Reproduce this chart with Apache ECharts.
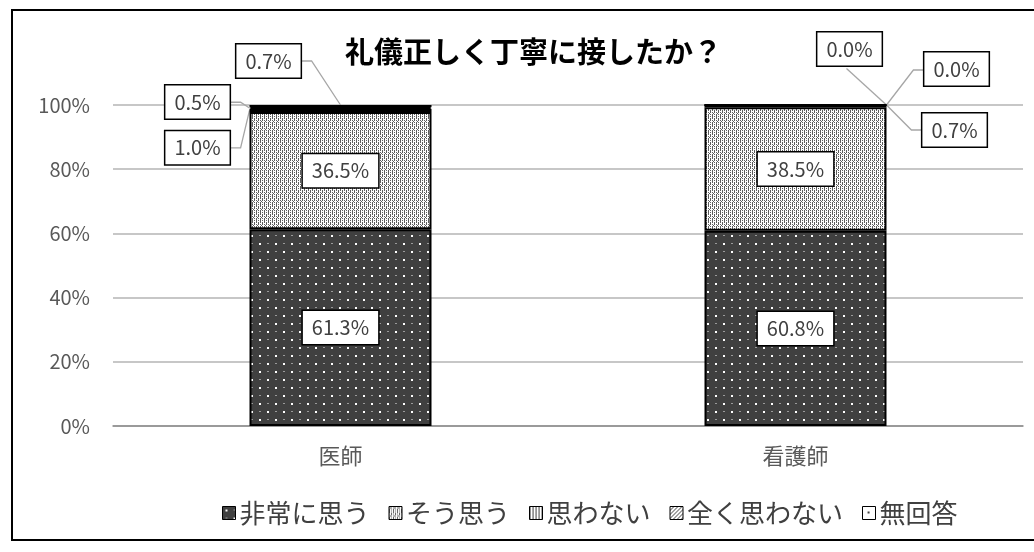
<!DOCTYPE html>
<html><head><meta charset="utf-8">
<script src="https://cdn.jsdelivr.net/npm/echarts@6/dist/echarts.min.js"></script>
<style>html,body{margin:0;padding:0;background:#fff}#c{width:1034px;height:552px}</style>
</head><body><div id="c"></div>
<script>
// ---- data ----
const categories = ['医師', '看護師'];
const seriesNames = ['非常に思う', 'そう思う', '思わない', '全く思わない', '無回答'];
const veryMuch = [61.3, 60.8];
const agree = [36.5, 38.5];
const disagree = [1.0, 0.7];
const stronglyDisagree = [0.5, 0.0];
const noAnswer = [0.7, 0.0];
const yMin = 0, yMax = 100, yInterval = 20;
const titleText = '礼儀正しく丁寧に接したか？';

// ---- patterns ----
function makePattern(w, h, draw) {
  const c = document.createElement('canvas'); c.width = w; c.height = h;
  const g = c.getContext('2d'); draw(g); return c;
}
function drawBits(g, rows, color) {
  g.fillStyle = color;
  rows.forEach((r, y) => { for (let x = 0; x < r.length; x++) if (r[x] === '#') g.fillRect(x, y, 1, 1); });
}
const patterns = [
  makePattern(16, 16, g => {
    g.fillStyle = '#404040'; g.fillRect(0, 0, 16, 16);
    g.fillStyle = '#ffffff'; g.fillRect(3, 3, 2, 2); g.fillRect(11, 11, 2, 2);
    g.fillStyle = '#9a9a9a'; g.fillRect(11, 3, 2, 1); g.fillRect(3, 11, 2, 1);
  }),
  makePattern(8, 8, g => {
    g.fillStyle = '#ffffff'; g.fillRect(0, 0, 8, 8);
    drawBits(g, [
      '#.#.#.#.',
      '.#...#..',
      '#.#.#.#.',
      '#...#...',
      '#.#.#.#.',
      '#...#...',
      '#.#.#.#.',
      '..#...#.'
    ], '#5e5e5e');
  }),
  makePattern(3, 3, g => {
    g.fillStyle = '#ffffff'; g.fillRect(0, 0, 3, 3);
    g.fillStyle = '#404040'; g.fillRect(0, 0, 1, 3);
  }),
  makePattern(4, 4, g => {
    g.fillStyle = '#ffffff'; g.fillRect(0, 0, 4, 4);
    g.fillStyle = '#404040';
    for (let i = 0; i < 4; i++) g.fillRect(3 - i, i, 1, 1);
  }),
  makePattern(12, 12, g => {
    g.fillStyle = '#ffffff'; g.fillRect(0, 0, 12, 12);
    g.fillStyle = '#404040'; g.fillRect(5, 5, 2, 2);
  })
];

const FONT = '"Noto Sans CJK JP", "Noto Sans", sans-serif';
const LABEL_FONT_SIZE = 20;
const LABEL_PAD = [7, 9, 6, 9];
const BAR_WIDTH_RATIO = 0.4;
const dataArrays = [veryMuch, agree, disagree, stronglyDisagree, noAnswer];
const fmt = v => v.toFixed(1) + '%';

// ---- placement of the small (outside) labels, relative to the top-centre of their segment ----
const smallLabelLayout = {
  '2-0': { dx: -143, dy: 39, side: 'right', target: 'leftmid' },
  '3-0': { dx: -143, dy: -5, side: 'right', target: 'leftmid' },
  '4-0': { dx: -72, dy: -44, side: 'right', target: 'topcenter' },
  '2-1': { dx: 159, dy: 25, side: 'left', target: 'topright' },
  '3-1': { dx: 161, dy: -35, side: 'left', target: 'topright' },
  '4-1': { dx: 54, dy: -55, side: 'bottom', target: 'topright' }
};
function layoutFor(si) {
  return function (params) {
    const o = smallLabelLayout[si + '-' + params.dataIndex];
    if (!o) return {};
    const r = params.rect;
    return { x: r.x + r.width / 2 + o.dx, y: r.y + o.dy, align: 'center', verticalAlign: 'middle' };
  };
}

// text measurement for leader-line end points
const measureCtx = document.createElement('canvas').getContext('2d');
measureCtx.font = LABEL_FONT_SIZE + 'px ' + FONT;
function labelBoxSize(text) {
  return [measureCtx.measureText(text).width + LABEL_PAD[1] + LABEL_PAD[3],
          LABEL_FONT_SIZE * 1.2 + LABEL_PAD[0] + LABEL_PAD[2]];
}

// leader-line items: [categoryIndex, seriesIndex]
const leaderItems = Object.keys(smallLabelLayout).map(k => { const p = k.split('-').map(Number); return [p[1], p[0]]; });

function renderLeader(params, api) {
  const di = api.value(0), si = api.value(1);
  let bottom = 0;
  for (let s = 0; s < si; s++) bottom += dataArrays[s][di];
  const val = dataArrays[si][di];
  const top = bottom + val;
  const topPt = api.coord([di, top]);
  const midPt = api.coord([di, bottom + val / 2]);
  const barW = api.size([1, 0])[0] * BAR_WIDTH_RATIO;
  const o = smallLabelLayout[si + '-' + di];
  const cx = topPt[0] + o.dx, cy = topPt[1] + o.dy;
  const sz = labelBoxSize(fmt(val));
  let target;
  if (o.target === 'topcenter') target = [topPt[0], topPt[1]];
  else if (o.target === 'leftmid') target = [topPt[0] - barW / 2, midPt[1]];
  else target = [topPt[0] + barW / 2, topPt[1]];
  let pts;
  if (o.side === 'right') { const s0 = [cx + sz[0] / 2, cy]; pts = [s0, [s0[0] + 11, cy], target]; }
  else if (o.side === 'left') { const s0 = [cx - sz[0] / 2, cy]; pts = [s0, [s0[0] - 11, cy], target]; }
  else { pts = [[cx - 3, cy + sz[1] / 2], target]; }
  return {
    type: 'polyline', silent: true,
    shape: { points: pts },
    style: { fill: null, stroke: '#a6a6a6', lineWidth: 1.3 }
  };
}

const chart = echarts.init(document.getElementById('c'), null, { renderer: 'canvas' });
const barSeries = dataArrays.map((arr, i) => ({
  name: seriesNames[i], type: 'bar', stack: 'total', barWidth: (BAR_WIDTH_RATIO * 100) + '%',
  data: arr, silent: true, z: 2,
  itemStyle: { color: { image: patterns[i], repeat: 'repeat' }, borderColor: '#000', borderWidth: 2 },
  label: {
    show: true, position: 'inside',
    formatter: p => fmt(p.value),
    fontFamily: FONT, fontSize: LABEL_FONT_SIZE, color: '#404040',
    backgroundColor: '#fff', borderColor: '#000', borderWidth: 1.5,
    padding: LABEL_PAD
  },
  labelLayout: i >= 2 ? layoutFor(i) : undefined,
  emphasis: { disabled: true }
}));
chart.setOption({
  animation: false,
  backgroundColor: '#ffffff',
  graphic: [{
    type: 'rect', shape: { x: 12, y: 10, width: 1040, height: 530 },
    style: { fill: 'none', stroke: '#000', lineWidth: 2 }, silent: true, z: -1
  }],
  title: {
    text: titleText, left: 340, top: 32,
    textStyle: { fontFamily: FONT, fontSize: 29, fontWeight: 'bold', color: '#000' }
  },
  legend: {
    data: seriesNames, left: 217, top: 495, icon: 'rect',
    itemWidth: 13, itemHeight: 13, itemGap: 19,
    textStyle: { fontFamily: FONT, fontSize: 26, color: '#404040', padding: [0, 0, 0, -1] },
    itemStyle: { borderColor: '#000', borderWidth: 1 }
  },
  grid: { left: 113, right: 11, top: 105, bottom: 126, containLabel: false },
  xAxis: {
    type: 'category', data: categories,
    axisLine: { lineStyle: { color: '#8c8c8c', width: 1.5 } },
    axisTick: { show: false },
    axisLabel: { fontFamily: FONT, fontSize: 22, color: '#595959', margin: 19 }
  },
  yAxis: {
    type: 'value', min: yMin, max: yMax, interval: yInterval,
    axisLine: { show: false }, axisTick: { show: false },
    splitLine: { lineStyle: { color: '#b4b4b4', width: 1.5 } },
    axisLabel: { formatter: '{value}%', fontFamily: FONT, fontSize: 20, color: '#595959', margin: 23 }
  },
  series: barSeries.concat([{
    type: 'custom', name: 'leaders', silent: true, z: 1,
    data: leaderItems,
    encode: { x: 0 },
    renderItem: renderLeader,
    clip: false
  }])
});
</script>
</body></html>
